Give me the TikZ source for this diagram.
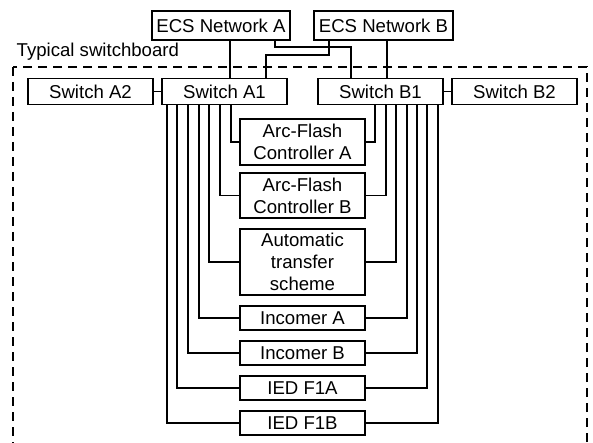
\documentclass[tikz,border=0pt]{standalone}
\usepackage{fontspec}
\setmainfont{Liberation Sans}
\usepackage{tikz}
\usetikzlibrary{positioning}
\tikzstyle{bx}=[draw=black, line width=1.4pt, minimum width=125pt, align=center, inner sep=0pt, font=\fontsize{18.6}{21.8}\selectfont]
\tikzstyle{wire}=[line width=1.4pt]

\begin{document}
\begin{tikzpicture}
[x=1pt, y=-1pt, wire]
\useasboundingbox (0,0) rectangle (593,443);
\begin{scope}
\clip (0,0) rectangle (593,443);
\draw[line width=1.4pt, dash pattern=on 9pt off 6pt] (13,67) rectangle (587,470);
\end{scope}
\node[anchor=west, inner sep=0pt, font=\fontsize{18.6}{21.8}\selectfont] (lbl) at (16,52) {Typical switchboard};
\node[bx, minimum width=138pt, minimum height=29pt] (ecsA) at (221,25.5) {ECS Network A};
\node[bx, minimum width=139pt, minimum height=29pt] (ecsB) at (383.5,25.5) {ECS Network B};
\node[bx, minimum height=26pt] (sA2) at (90.5,91.5) {Switch A2};
\node[bx, minimum height=26pt] (sA1) at (224.5,91.5) {Switch A1};
\node[bx, minimum height=26pt] (sB1) at (380.5,91.5) {Switch B1};
\node[bx, minimum height=26pt] (sB2) at (514.5,91.5) {Switch B2};
\node[bx, minimum height=46pt] (afcA) at (302.5,142) {Arc-Flash\\Controller A};
\node[bx, minimum height=45pt] (afcB) at (302.5,195.5) {Arc-Flash\\Controller B};
\node[bx, minimum height=66pt] (ats) at (302.5,262) {Automatic\\transfer\\scheme};
\node[bx, minimum height=24pt] (incA) at (302.5,318) {Incomer A};
\node[bx, minimum height=24pt] (incB) at (302.5,353) {Incomer B};
\node[bx, minimum height=24pt] (iedA) at (302.5,388) {IED F1A};
\node[bx, minimum height=24pt] (iedB) at (302.5,423) {IED F1B};
% network uplinks
\draw (ecsA.south -| 230,0) -- (sA1.north -| 230,0);
\draw (ecsB.south -| 387,0) -- (sB1.north -| 387,0);
\draw (ecsA.south -| 275,0) |- (351,47) -- (sB1.north -| 351,0);
\draw (ecsB.south -| 329,0) |- (266,55) -- (sA1.north -| 266,0);
\path[]
   (sA2) edge (sA1)
   (sB1) edge (sB2);
% device links
\foreach \n/\xl/\xr in {afcA/231/375, afcB/220/386, ats/209/396, incA/199/407, incB/188/417, iedA/177/427, iedB/167/438}{
  \draw (sA1.south -| \xl,0) |- (\n.west);
  \draw (sB1.south -| \xr,0) |- (\n.east);
}
\end{tikzpicture}
\end{document}
